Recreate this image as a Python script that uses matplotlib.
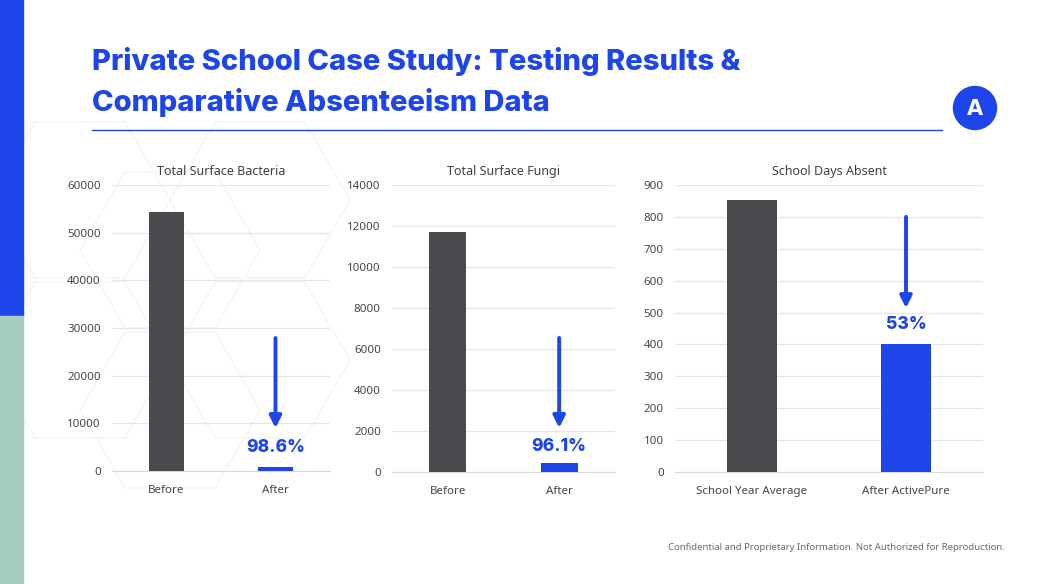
import matplotlib.pyplot as plt
from matplotlib.patches import Rectangle, Circle, RegularPolygon
import numpy as np

# chart data
bact_cats = ["Before", "After"]
bact_vals = [54300, 760]
fungi_cats = ["Before", "After"]
fungi_vals = [11700, 460]
absent_cats = ["School Year Average", "After ActivePure"]
absent_vals = [852, 400]
pct_labels = ["98.6%", "96.1%", "53%"]

BLUE = "#1d45e9"
DARK = "#4a4b4f"
GREEN = "#a6ccbe"
TXT = "#404040"

plt.rcParams['font.family'] = ['Noto Sans', 'DejaVu Sans']

fig = plt.figure(figsize=(10.38, 5.84), dpi=100)
fig.patch.set_facecolor("white")

# background layer in pixel coordinates
bg = fig.add_axes([0, 0, 1, 1], zorder=-1)
bg.set_xlim(0, 1038)
bg.set_ylim(584, 0)
bg.axis("off")
for cx, cy in [(80, 200), (170, 250), (80, 360), (170, 410), (260, 360), (260, 200)]:
    bg.add_patch(RegularPolygon((cx, cy), 6, radius=90, orientation=np.pi / 6,
                                fill=False, ec="#f4f4f4", lw=1.0))
bg.add_patch(Rectangle((0, 0), 23, 316, color=BLUE))
bg.add_patch(Rectangle((0, 316), 23, 268, color=GREEN))
bg.plot([92, 942], [130, 130], color=BLUE, lw=1.0)
bg.add_patch(Circle((975, 108), 21.5, color=BLUE))
bg.text(975, 109, "A", color="white", fontsize=15, fontweight="heavy", family="DejaVu Sans",
        ha="center", va="center")

# heading
fig.text(0.0886, 0.894, "Private School Case Study: Testing Results &", color=BLUE,
         fontsize=21, fontweight="heavy", family="Inter", va="center", ha="left")
fig.text(0.0886, 0.825, "Comparative Absenteeism Data", color=BLUE,
         fontsize=21, fontweight="heavy", family="Inter", va="center", ha="left")

fig.text(0.968, 0.063, "Confidential and Proprietary Information. Not Authorized for Reproduction.",
         color="#6b6b6b", fontsize=6.9, ha="right", va="center")


def draw(ax, cats, vals, ymax, step, title, label, arrow_top, arrow_tip, label_y):
    x = np.arange(len(cats))
    ax.set_facecolor("none")
    ax.bar(x, vals, width=0.33, color=[DARK, BLUE], zorder=3)
    ax.set_xlim(-0.5, 1.5)
    ax.set_ylim(0, ymax)
    ax.set_yticks(np.arange(0, ymax + 1, step))
    ax.yaxis.grid(True, color="#e6e6e6", lw=0.9, zorder=0)
    for s in ["top", "right", "left"]:
        ax.spines[s].set_visible(False)
    ax.spines["bottom"].set_color("#d9d9d9")
    ax.tick_params(length=0, labelsize=8.3, colors="#454545")
    ax.tick_params(axis="x", pad=10)
    ax.tick_params(axis="y", pad=8)
    ax.set_xticks(x)
    ax.set_xticklabels(cats)
    ax.set_title(title, fontsize=9, color=TXT, pad=7)
    ax.annotate("", xy=(1, arrow_tip), xytext=(1, arrow_top),
                arrowprops=dict(arrowstyle="-|>,head_width=0.35,head_length=0.7",
                                color=BLUE, lw=2.8, shrinkA=0, shrinkB=0), zorder=5)
    ax.text(1, label_y, label, color=BLUE, fontsize=12.5, fontweight="heavy",
            family="Inter", ha="center", va="center", zorder=5)


ax1 = fig.add_axes([0.1079, 0.1935, 0.21, 0.4897])
draw(ax1, bact_cats, bact_vals, 60000, 10000, "Total Surface Bacteria", pct_labels[0],
     27900, 9000, 5000)

ax2 = fig.add_axes([0.3776, 0.1918, 0.2148, 0.4914])
draw(ax2, fungi_cats, fungi_vals, 14000, 2000, "Total Surface Fungi", pct_labels[1],
     6540, 2150, 1220)

ax3 = fig.add_axes([0.6503, 0.1918, 0.2967, 0.4914])
draw(ax3, absent_cats, absent_vals, 900, 100, "School Days Absent", pct_labels[2],
     800, 514, 461)

fig.savefig("out.png", dpi=100, facecolor="white")
